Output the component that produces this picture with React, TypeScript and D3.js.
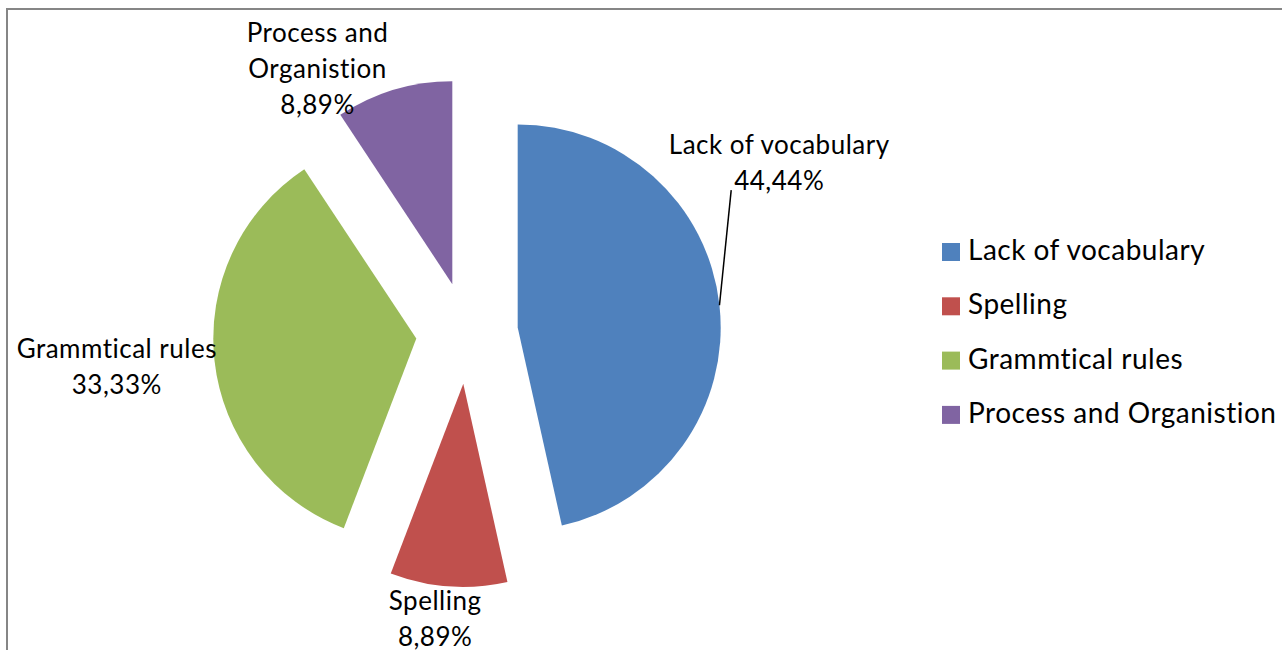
import React from "react";
import * as d3 from "d3";

// chart data
const categories = ["Lack of vocabulary", "Spelling", "Grammtical rules", "Process and Organistion"];
const shares = [44.44, 8.89, 33.33, 8.89];
const shareLabels = ["44,44%", "8,89%", "33,33%", "8,89%"];
const labelNameLines = [["Lack of vocabulary"], ["Spelling"], ["Grammtical rules"], ["Process and", "Organistion"]];
const colors = ["#4F81BD", "#C0504D", "#9BBB59", "#8064A2"];

// layout
const W = 1282;
const H = 650;
const CX = 467;
const CY = 333;
const RADIUS = 203;
const EXPLODE = 51;
const LABEL_R = 300;
const LINE_H = 36;
const FONT = "Lato, 'Open Sans', sans-serif";
// nudges from the label-arc point to the first baseline of each label
const labelNudge = [
  [14, -146],
  [-10, -22],
  [-52, -8],
  [-63, -4],
];

type Slice = d3.PieArcDatum<number>;

const App = () => {
  const pie = d3.pie<number>().sort(null).value((d) => d);
  const slices: Slice[] = pie(shares);
  const arc = d3.arc<Slice>().innerRadius(0).outerRadius(RADIUS);
  const labelArc = d3.arc<Slice>().innerRadius(LABEL_R).outerRadius(LABEL_R);
  const edgeArc = d3.arc<Slice>().innerRadius(RADIUS).outerRadius(RADIUS);

  const offset = (s: Slice) => {
    const mid = (s.startAngle + s.endAngle) / 2;
    return [Math.sin(mid) * EXPLODE, -Math.cos(mid) * EXPLODE];
  };

  // leader line for the first slice
  const blue = slices[0];
  const [bx, by] = offset(blue);
  const [ex, ey] = edgeArc.centroid(blue);
  const [lx, ly] = labelArc.centroid(blue);
  const leadStart = [CX + lx + labelNudge[0][0] - 48, CY + ly + labelNudge[0][1] + LINE_H];

  const textStyle = { fontVariantLigatures: "none" as const, letterSpacing: "0.5px" };

  return (
    <svg width={W} height={H} style={{ position: "absolute", left: 0, top: 0 }}>
      <rect x={0} y={0} width={W} height={H} fill="#fff" />
      <rect x={7} y={9} width={W + 20} height={H + 20} fill="none" stroke="#868686" strokeWidth={2} />

      <g transform={`translate(${CX},${CY})`}>
        {slices.map((s, i) => {
          const [dx, dy] = offset(s);
          return <path key={i} d={arc(s) || ""} fill={colors[i]} transform={`translate(${dx},${dy})`} />;
        })}
      </g>

      <line
        x1={leadStart[0]}
        y1={leadStart[1]}
        x2={CX + bx + ex}
        y2={CY + by + ey}
        stroke="#000"
        strokeWidth={1.5}
      />

      <g fontFamily={FONT} fontSize={26} fill="#000" textAnchor="middle" style={textStyle}>
        {slices.map((s, i) => {
          const [px, py] = labelArc.centroid(s);
          const x = CX + px + labelNudge[i][0];
          const y = CY + py + labelNudge[i][1];
          const lines = [...labelNameLines[i], shareLabels[i]];
          return (
            <text key={i} x={x} y={y}>
              {lines.map((t, j) => (
                <tspan key={j} x={x} y={y + j * LINE_H}>
                  {t}
                </tspan>
              ))}
            </text>
          );
        })}
      </g>

      <g fontFamily={FONT} fontSize={28} fill="#000" style={textStyle}>
        {categories.map((c, i) => {
          const y = 260 + i * 54.3;
          return (
            <g key={c}>
              <rect x={942} y={y - 17} width={18} height={18} fill={colors[i]} />
              <text x={968} y={y}>
                {c}
              </text>
            </g>
          );
        })}
      </g>
    </svg>
  );
};

export default App;
